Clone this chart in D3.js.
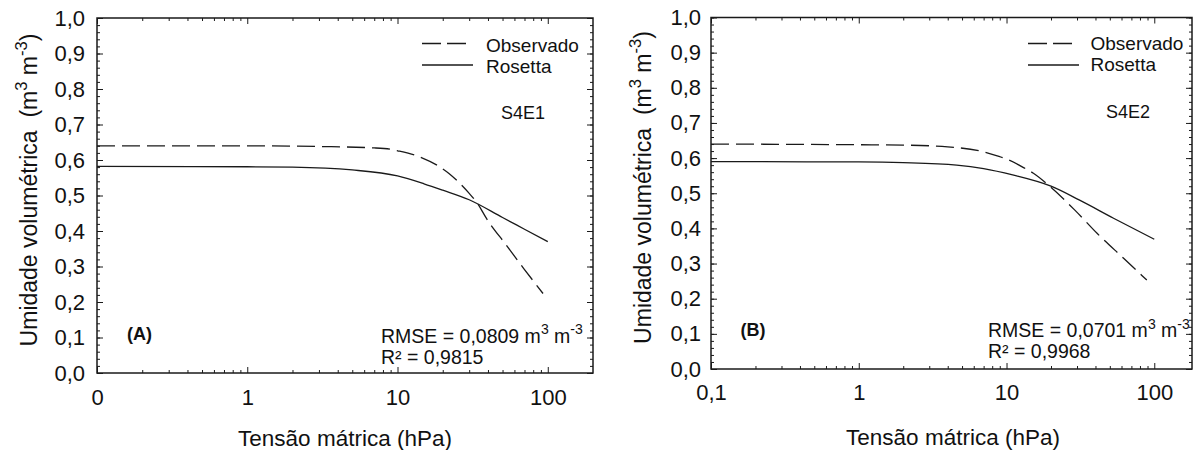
<!DOCTYPE html>
<html>
<head>
<meta charset="utf-8">
<script src="https://cdn.jsdelivr.net/npm/d3@7"></script>
<style>
  body { margin: 0; background: #fff; }
  svg { display: block; }
  text { font-family: "Liberation Sans", Arial, sans-serif; fill: #111; white-space: pre; }
</style>
</head>
<body>
<svg id="chart" width="1195" height="450"></svg>
<script>
// values (tensão in hPa, umidade in m3 m-3)
var tensaoObsA = [0.1, 1, 3, 7, 9, 10, 14, 22, 30, 34, 39, 53, 69, 93];
var umidObsA   = [0.640, 0.640, 0.638, 0.634, 0.630, 0.626, 0.609, 0.562, 0.506, 0.478, 0.436, 0.360, 0.295, 0.224];
var tensaoRosA = [0.1, 1, 2, 5, 10, 15, 20, 30, 50, 70, 100];
var umidRosA   = [0.582, 0.581, 0.580, 0.572, 0.555, 0.533, 0.515, 0.488, 0.438, 0.405, 0.370];

var tensaoObsB = [0.1, 1, 2, 4, 7, 9, 10.3, 13.3, 15.2, 19.7, 29, 41, 62, 89];
var umidObsB   = [0.640, 0.638, 0.637, 0.632, 0.618, 0.604, 0.595, 0.571, 0.557, 0.519, 0.452, 0.386, 0.315, 0.253];
var tensaoRosB = [0.1, 1, 2, 4.6, 7, 11, 20, 31, 53, 100];
var umidRosB   = [0.590, 0.589, 0.587, 0.580, 0.570, 0.552, 0.520, 0.481, 0.429, 0.369];

var yTickValues = [0, 0.1, 0.2, 0.3, 0.4, 0.5, 0.6, 0.7, 0.8, 0.9, 1.0];
var yTickLabels = ["0,0", "0,1", "0,2", "0,3", "0,4", "0,5", "0,6", "0,7", "0,8", "0,9", "1,0"];
var xTickValues = [0.1, 1, 10, 100];
var xTickLabelsA = ["0", "1", "10", "100"];
var xTickLabelsB = ["0,1", "1", "10", "100"];

var legendNames = ["Observado", "Rosetta"];
var sampleNames = ["S4E1", "S4E2"];
var panelLetters = ["(A)", "(B)"];
var rmseValues = ["0,0809", "0,0701"];
var r2Values = ["0,9815", "0,9968"];

var svg = d3.select("#chart");
var ink = "#1a1a1a";

// writes text with superscripts: parts = [[str, isSup], ...]
function richText(g, parts, size) {
    var t = g.append("text").attr("font-size", size);
    var up = false;
    parts.forEach(function(p) {
        var s = t.append("tspan").text(p[0]);
        if (p[1]) s.attr("font-size", size * 0.72);
        if (p[1] && !up) { s.attr("dy", -size * 0.42); up = true; }
        else if (!p[1] && up) { s.attr("dy", size * 0.42); up = false; }
    });
    return t;
}

function drawPanel(p) {
    var g = svg.append("g");
    var x = d3.scaleLog().domain([0.1, p.xMax]).range([p.left, p.right]);
    var y = d3.scaleLinear().domain([0, 1]).range([p.bottom, p.top]);

    // minor ticks
    var minorX = [];
    for (var d = 0.1; d < p.xMax; d *= 10) {
        for (var k = 2; k <= 9; k++) { if (d * k < p.xMax) minorX.push(+(d * k).toPrecision(3)); }
    }
    var minorY = d3.range(0, 51).map(function(i) { return i / 50; });

    g.append("g").attr("transform", `translate(0,${p.bottom})`)
        .call(d3.axisBottom(x).tickValues(minorX).tickSize(-3).tickFormat(""));
    g.append("g").attr("transform", `translate(0,${p.top})`)
        .call(d3.axisTop(x).tickValues(minorX).tickSize(-3).tickFormat(""));
    g.append("g").attr("transform", `translate(${p.left},0)`)
        .call(d3.axisLeft(y).tickValues(minorY).tickSize(-3).tickFormat(""));
    g.append("g").attr("transform", `translate(${p.right},0)`)
        .call(d3.axisRight(y).tickValues(minorY).tickSize(-3).tickFormat(""));

    // major ticks with labels
    g.append("g").attr("class", "xmaj").attr("transform", `translate(0,${p.bottom})`)
        .call(d3.axisBottom(x).tickValues(xTickValues).tickSize(-6).tickPadding(p.xPad)
            .tickFormat(function(d, i) { return p.xLabels[i]; }));
    g.append("g").attr("transform", `translate(0,${p.top})`)
        .call(d3.axisTop(x).tickValues(xTickValues).tickSize(-6).tickFormat(""));
    g.append("g").attr("class", "ymaj").attr("transform", `translate(${p.left},0)`)
        .call(d3.axisLeft(y).tickValues(yTickValues).tickSize(-6).tickPadding(p.yPad)
            .tickFormat(function(d, i) { return yTickLabels[i]; }));
    g.append("g").attr("transform", `translate(${p.right},0)`)
        .call(d3.axisRight(y).tickValues(yTickValues).tickSize(-6).tickFormat(""));

    g.selectAll(".domain").remove();
    g.selectAll(".tick line").attr("stroke", ink).attr("stroke-width", 1);
    g.selectAll(".tick text").attr("font-size", 22).attr("fill", ink)
        .style("font-family", "'Liberation Sans', Arial, sans-serif");

    g.append("rect")
        .attr("x", p.left).attr("y", p.top)
        .attr("width", p.right - p.left).attr("height", p.bottom - p.top)
        .attr("fill", "none").attr("stroke", ink).attr("stroke-width", 1.5);

    var line = d3.line()
        .x(function(d) { return x(d[0]); })
        .y(function(d) { return y(d[1]); })
        .curve(d3.curveMonotoneX);

    g.append("path")
        .datum(d3.zip(p.obsX, p.obsY))
        .attr("fill", "none").attr("stroke", ink).attr("stroke-width", 1.3)
        .attr("stroke-dasharray", "18,7")
        .attr("d", line);
    g.append("path")
        .datum(d3.zip(p.rosX, p.rosY))
        .attr("fill", "none").attr("stroke", ink).attr("stroke-width", 1.3)
        .attr("d", line);

    // legend
    g.append("line").attr("x1", p.legX).attr("x2", p.legX + 44)
        .attr("y1", 43.5).attr("y2", 43.5)
        .attr("stroke", ink).attr("stroke-width", 1.3).attr("stroke-dasharray", "19,6");
    g.append("line").attr("x1", p.legX).attr("x2", p.legX + 51)
        .attr("y1", 65).attr("y2", 65)
        .attr("stroke", ink).attr("stroke-width", 1.3);
    g.append("text").attr("x", p.legTextX).attr("y", p.legBase).attr("font-size", 19).text(legendNames[0]);
    g.append("text").attr("x", p.legTextX).attr("y", p.legBase + 21).attr("font-size", 19).text(legendNames[1]);

    g.append("text").attr("x", p.sampleX).attr("y", p.sampleY).attr("font-size", 18).text(p.sample);
    g.append("text").attr("x", p.letterX).attr("y", p.letterY).attr("font-size", 18)
        .attr("font-weight", "bold").text(p.letter);

    richText(g, [["RMSE = " + p.rmse + " m", false], ["3", true], [" m", false], ["-3", true]], 19.5)
        .attr("x", p.statX).attr("y", p.statY);
    g.append("text").attr("x", p.statX).attr("y", p.statY + 21).attr("font-size", 19.5).text("R² = " + p.r2);

    // axis titles
    g.append("text").attr("x", p.xTitleX).attr("y", p.xTitleY).attr("font-size", 22.5)
        .attr("text-anchor", "middle").text("Tensão mátrica (hPa)");
    richText(g, [["Umidade volumétrica  (m", false], ["3", true], [" m", false], ["-3", true], [")", false]], 23)
        .attr("text-anchor", "middle")
        .attr("transform", `translate(${p.yTitleX},${p.yTitleY}) rotate(-90)`);
}

drawPanel({
    left: 97, right: 593, top: 18, bottom: 373, xMax: 200, xLabels: xTickLabelsA,
    xPad: 16, yPad: 12,
    obsX: tensaoObsA, obsY: umidObsA, rosX: tensaoRosA, rosY: umidRosA,
    legX: 422, legTextX: 486, legBase: 51.5,
    sample: sampleNames[0], sampleX: 501, sampleY: 119,
    letter: panelLetters[0], letterX: 127, letterY: 340,
    rmse: rmseValues[0], r2: r2Values[0], statX: 381, statY: 342.5,
    xTitleX: 345, xTitleY: 446, yTitleX: 37, yTitleY: 190
});
drawPanel({
    left: 711, right: 1192, top: 17.5, bottom: 369, xMax: 180, xLabels: xTickLabelsB,
    xPad: 15, yPad: 10,
    obsX: tensaoObsB, obsY: umidObsB, rosX: tensaoRosB, rosY: umidRosB,
    legX: 1028, legTextX: 1090.5, legBase: 50,
    sample: sampleNames[1], sampleX: 1106, sampleY: 117.5,
    letter: panelLetters[1], letterX: 740.5, letterY: 336,
    rmse: rmseValues[1], r2: r2Values[1], statX: 988, statY: 337,
    xTitleX: 953, xTitleY: 445, yTitleX: 651, yTitleY: 187.5
});
</script>
</body>
</html>
